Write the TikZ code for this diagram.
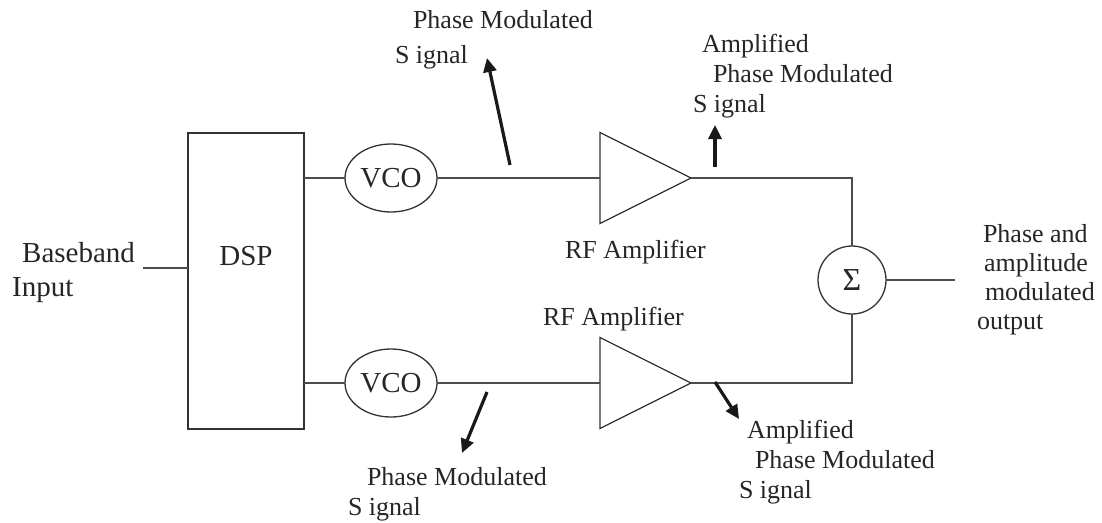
\documentclass[tikz,border=0pt]{standalone}
\usepackage{fontspec}
\setmainfont{Liberation Serif}
\usetikzlibrary{shapes.geometric,arrows.meta}
\begin{document}
\begin{tikzpicture}[x=1pt,y=-1pt,
  wire/.style={draw=black!70, line width=1.6pt},
  shp/.style={draw=black!80, line width=1.3pt, inner sep=0pt, outer sep=0pt},
  sigarrow/.style={line width=3.2pt, black!90, -{Triangle[length=14pt,width=13pt]}},
  lab/.style={inner sep=0pt, outer sep=0pt, text=black!85, font=\fontsize{26}{30}\selectfont, align=left, anchor=north west},
  bigtext/.style={font=\fontsize{29}{34}\selectfont, text=black!85}
]
\useasboundingbox[fill=white] (0,0) rectangle (1102,522);

% blocks
\node[shp, rectangle, minimum width=116pt, minimum height=296pt, bigtext] (dsp) at (246,281) {\raisebox{50pt}{DSP}};
\node[shp, ellipse, minimum width=92pt, minimum height=68pt, bigtext] (vco1) at (391,178) {VCO};
\node[shp, ellipse, minimum width=92pt, minimum height=68pt, bigtext] (vco2) at (391,383) {VCO};
\node[shp, isosceles triangle, isosceles triangle stretches, minimum width=91pt, minimum height=91pt, anchor=west] (amp1) at (600,178) {};
\node[shp, isosceles triangle, isosceles triangle stretches, minimum width=91pt, minimum height=91pt, anchor=west] (amp2) at (600,383) {};
\node[shp, circle, minimum size=68pt, font=\fontsize{32}{36}\selectfont, text=black!85] (sum) at (852,280) {Σ};

% free ends
\coordinate (bb) at (143,268);
\coordinate (out) at (955,280);

% connectors
\draw[wire] (bb) -- (bb -| dsp.west);
\draw[wire] (dsp.east |- vco1.west) -- (vco1);
\draw[wire] (dsp.east |- vco2.west) -- (vco2);
\draw[wire] (vco1) -- (amp1);
\draw[wire] (vco2) -- (amp2);
\draw[wire] (amp1.east) -| (sum.north);
\draw[wire] (amp2.east) -| (sum.south);
\draw[wire] (sum.east) -- (out);

% signal arrows
\coordinate (a1s) at (510,165); \coordinate (a1e) at (487,58);
\coordinate (a2s) at (715,167); \coordinate (a2e) at (715,125);
\coordinate (a3s) at (487,392); \coordinate (a3e) at (462,453);
\coordinate (a4s) at (715,382); \coordinate (a4e) at (739,419);
\draw[sigarrow] (a1s) -- (a1e);
\draw[sigarrow] (a2s) -- (a2e);
\draw[sigarrow] (a3s) -- (a3e);
\draw[sigarrow] (a4s) -- (a4e);

% texts
\node[bigtext, inner sep=0pt, anchor=north west, align=left] (bbtext) at (12,242) {\hspace*{10pt}Baseband\\Input};
\node[lab, anchor=base west] (rf1) at (565,258) {RF Amplifier};
\node[lab, anchor=base west] (rf2) at (543,325) {RF Amplifier};
\node[lab] (l1) at (395,10) {\hspace*{18pt}Phase Modulated\\[5pt]S ignal};
\node[lab] (l2) at (693,34) {\hspace*{9pt}Amplified\\\hspace*{20pt}Phase Modulated\\S ignal};
\node[lab] (l3) at (348,467) {\hspace*{19pt}Phase Modulated\\S ignal};
\node[lab] (l4) at (739,420) {\hspace*{8pt}Amplified\\\hspace*{16pt}Phase Modulated\\S ignal};
\node[lab, font=\fontsize{26}{29}\selectfont] (l5) at (977,224) {\hspace*{6pt}Phase and\\\hspace*{7pt}amplitude\\\hspace*{8pt}modulated\\output};
\end{tikzpicture}
\end{document}
